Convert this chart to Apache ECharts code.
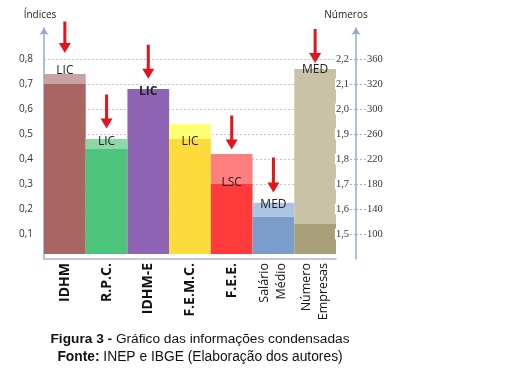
<!DOCTYPE html>
<html><head><meta charset="utf-8">
<script src="https://cdn.jsdelivr.net/npm/echarts@6/dist/echarts.min.js"></script>
<style>html,body{margin:0;padding:0;background:#fff}#c{width:511px;height:379px}</style>
</head><body><div id="c"></div>
<script>
// ---- data ----
var categories = ['IDHM', 'R.P.C.', 'IDHM-E', 'F.E.M.C.', 'F.E.E.', 'Salário\nMédio', 'Número\nEmpresas'];
var axisSide = [0, 0, 0, 0, 0, 1, 1];            // 0 = Índices (left), 1 = Números (right)
var lowerValues = [0.70, 0.44, 0.68, 0.48, 0.30, 1.57, 1.54];
var upperValues = [0.74, 0.48, 0.68, 0.54, 0.42, 1.625, 2.16];
var labelTexts = ['LIC', 'LIC', 'LIC', 'LIC', 'LSC', 'MED', 'MED'];
var labelValues = [0.754, 0.471, 0.669, 0.469, 0.307, 1.618, 2.156];
var arrowFrom = [0.95, 0.658, 0.857, null, 0.574, 1.806, 2.32];
var arrowTo = [0.824, 0.522, 0.721, null, 0.438, 1.666, 2.184];
var leftTicks = [0.1, 0.2, 0.3, 0.4, 0.5, 0.6, 0.7, 0.8];
var rightTicks = [1.5, 1.6, 1.7, 1.8, 1.9, 2.0, 2.1, 2.2];
var rightCountLabels = ['100', '140', '180', '220', '260', '300', '320', '360'];

// ---- styles ----
var darkColors = ['#A86561', '#4CC47C', '#8E63B4', '#FDDB3A', '#FF3B3B', '#7C9DCC', '#A89E78'];
var lightColors = ['#C9A2A2', '#8ED8A8', '#8E63B4', '#FFFF73', '#FF7F7F', '#AEC4E3', '#C8C2A6'];
var axisMin = [0, 1.4], axisMax = [0.924, 2.324], baseOffset = 0.02;
var axisBlue = '#8FAAD6';

function comma(v) { return v.toFixed(1).replace('.', ','); }

var series = [];
[0, 1].forEach(function (side) {
  var base = categories.map(function (c, i) { return axisSide[i] === side ? axisMin[side] + baseOffset : '-'; });
  var dark = lowerValues.map(function (v, i) { return axisSide[i] === side ? v - axisMin[side] - baseOffset : '-'; });
  var light = upperValues.map(function (v, i) { return axisSide[i] === side ? v - lowerValues[i] : '-'; });
  var common = { type: 'bar', stack: 's' + side, yAxisIndex: side, barWidth: '100%', barGap: '-100%', barCategoryGap: '0%', silent: true };
  series.push(Object.assign({}, common, { name: 'base' + side, data: base, itemStyle: { color: 'rgba(0,0,0,0)' } }));
  series.push(Object.assign({}, common, { name: 'dark' + side, data: dark, itemStyle: { color: function (p) { return darkColors[p.dataIndex]; } } }));
  series.push(Object.assign({}, common, { name: 'light' + side, data: light, itemStyle: { color: function (p) { return lightColors[p.dataIndex]; } } }));

  var lblIdx = [];
  labelTexts.forEach(function (t, i) { if (axisSide[i] === side) lblIdx.push(i); });
  series.push({
    type: 'custom', yAxisIndex: side, silent: true, z: 10,
    data: lblIdx.map(function (i) { return [i, labelValues[i]]; }),
    renderItem: function (params, api) {
      var i = lblIdx[params.dataIndex];
      var pt = api.coord([api.value(0), api.value(1)]);
      return { type: 'text', x: pt[0], y: pt[1], style: {
        text: labelTexts[i], align: 'center', verticalAlign: 'middle',
        fontFamily: 'Open Sans', fontSize: 12, fontWeight: i === 2 ? 'bold' : 'normal', fill: '#222' } };
    }
  });

  var arIdx = [];
  arrowFrom.forEach(function (v, i) { if (axisSide[i] === side && v != null) arIdx.push(i); });
  series.push({
    type: 'custom', yAxisIndex: side, silent: true, z: 11, clip: false,
    data: arIdx.map(function (i) { return [i, arrowFrom[i], arrowTo[i]]; }),
    renderItem: function (params, api) {
      var p1 = api.coord([api.value(0), api.value(1)]);
      var p2 = api.coord([api.value(0), api.value(2)]);
      var x = p1[0];
      return { type: 'group', children: [
        { type: 'line', shape: { x1: x, y1: p1[1], x2: x, y2: p2[1] - 8 }, style: { stroke: '#E3141B', lineWidth: 3 } },
        { type: 'polygon', shape: { points: [[x - 6, p2[1] - 10], [x + 6, p2[1] - 10], [x, p2[1]]] }, style: { fill: '#E3141B' } }
      ] };
    }
  });
});

var labelFont = 'Open Sans';
var chart = echarts.init(document.getElementById('c'), null, { renderer: 'canvas' });
chart.setOption({
  animation: false,
  grid: { left: 44, right: 175, top: 28, bottom: 120, containLabel: false },
  xAxis: {
    type: 'category', data: categories.map(function (c, i) {
      return i < 5 ? { value: c, textStyle: { fontWeight: 'bold', fontSize: 14 } } : { value: c, textStyle: { fontSize: 12.5, lineHeight: 17 } };
    }),
    axisLine: { lineStyle: { color: '#A9B9D0', width: 1.5 } },
    axisTick: { show: false },
    axisLabel: { rotate: 90, margin: 4, color: '#111', fontFamily: labelFont, interval: 0 }
  },
  yAxis: [
    {
      type: 'value', min: axisMin[0], max: axisMax[0], position: 'left',
      name: 'Índices', nameLocation: 'end', nameGap: 8,
      nameTextStyle: { fontFamily: labelFont, fontSize: 10, color: '#222', align: 'center', padding: [0, 8, 0, 0] },
      axisLine: { show: true, symbol: ['none', 'arrow'], symbolSize: [7, 7], lineStyle: { color: axisBlue, width: 1.5 } },
      axisTick: { show: false, customValues: leftTicks },
      axisLabel: { customValues: leftTicks, formatter: comma, fontFamily: labelFont, fontSize: 10, color: '#333', margin: 11 },
      splitLine: { show: true, lineStyle: { color: '#C6C6C6', type: [2, 2], width: 1 } }
    },
    {
      type: 'value', min: axisMin[1], max: axisMax[1], position: 'right', offset: 20, z: 5,
      name: 'Números', nameLocation: 'end', nameGap: 8,
      nameTextStyle: { fontFamily: labelFont, fontSize: 10, color: '#222', align: 'center', padding: [0, 20, 0, 0] },
      axisLine: { show: true, symbol: ['none', 'arrow'], symbolSize: [7, 7], lineStyle: { color: axisBlue, width: 1.5 } },
      axisTick: { show: true, inside: true, length: 6, customValues: rightTicks, lineStyle: { color: '#B0B0B0', type: [2, 2] } },
      axisLabel: { inside: true, customValues: rightTicks, formatter: comma, fontFamily: 'Liberation Serif', fontSize: 10.5, color: '#333', margin: 6,
        backgroundColor: '#fff', padding: [0, 1] },
      splitLine: { show: false }
    },
    {
      type: 'value', min: axisMin[1], max: axisMax[1], position: 'right', offset: 20,
      axisLine: { show: false },
      axisTick: { show: true, customValues: rightTicks, length: 10, lineStyle: { color: '#B0B0B0', type: [2, 2] } },
      axisLabel: { customValues: rightTicks, fontFamily: 'Liberation Serif', fontSize: 10.5, color: '#333', margin: 11,
        formatter: function (v) { var k = rightTicks.findIndex(function (t) { return Math.abs(t - v) < 1e-6; }); return k >= 0 ? rightCountLabels[k] : ''; } },
      splitLine: { show: false }
    }
  ],
  series: series,
  graphic: [
    { type: 'text', x: 200, y: 339, style: { text: '{b|Figura 3 -} Gráfico das informações condensadas', align: 'center', verticalAlign: 'middle',
      fontFamily: 'Liberation Sans', fontSize: 13.7, fill: '#111', rich: { b: { fontWeight: 'bold', fontFamily: 'Liberation Sans', fontSize: 13.7 } } } },
    { type: 'text', x: 200, y: 357, style: { text: '{b|Fonte:} INEP e IBGE (Elaboração dos autores)', align: 'center', verticalAlign: 'middle',
      fontFamily: 'Liberation Sans', fontSize: 13.8, fill: '#111', rich: { b: { fontWeight: 'bold', fontFamily: 'Liberation Sans', fontSize: 13.8 } } } }
  ]
});
</script></body></html>
